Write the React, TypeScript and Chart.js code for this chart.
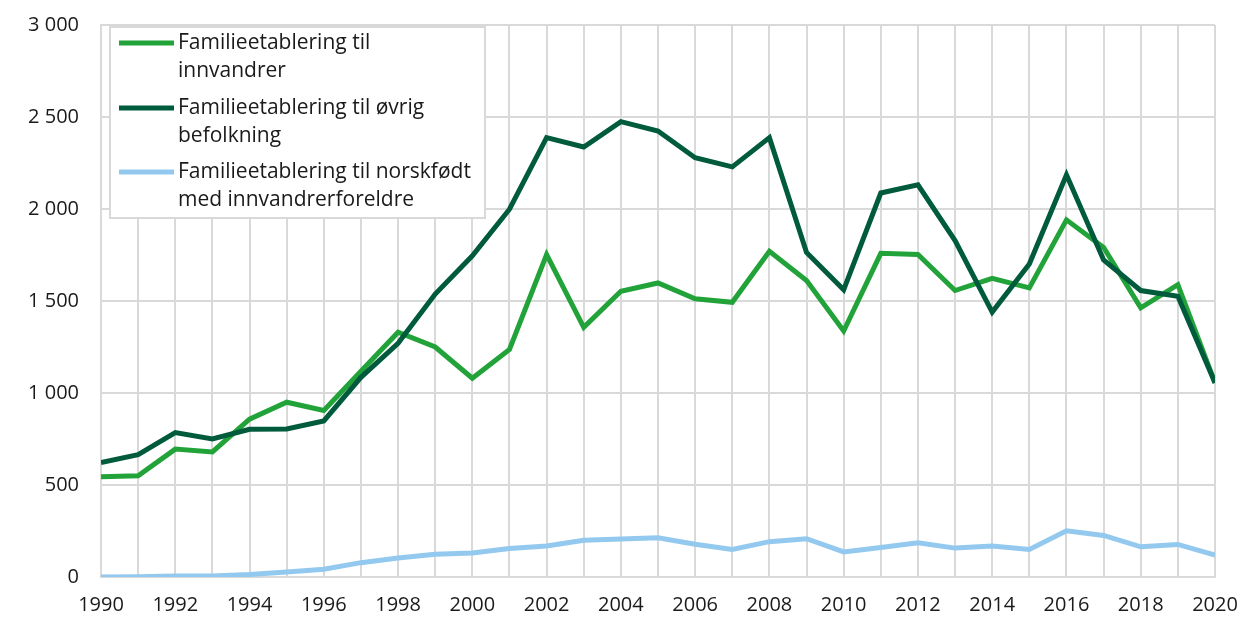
import React, { useEffect, useRef } from "react";
import { Chart, registerables } from "chart.js";

Chart.register(...registerables);

const years: number[] = [];
for (let y = 1990; y <= 2020; y++) years.push(y);

const innvandrer = [545, 550, 695, 680, 858, 950, 905, 1118, 1330, 1250, 1080, 1237, 1752, 1357, 1553, 1598, 1512, 1493, 1770, 1611, 1337, 1759, 1753, 1557, 1623, 1571, 1941, 1791, 1463, 1589, 1055];
const ovrig = [622, 665, 785, 750, 803, 804, 848, 1085, 1270, 1538, 1746, 1999, 2388, 2337, 2475, 2424, 2279, 2229, 2388, 1764, 1561, 2087, 2131, 1828, 1440, 1701, 2186, 1723, 1557, 1526, 1056];
const norskfodt = [0, 2, 6, 6, 14, 27, 42, 78, 103, 124, 130, 155, 168, 200, 207, 213, 178, 150, 192, 208, 136, 160, 186, 157, 168, 150, 251, 226, 164, 177, 119];

const seriesLabels = [
  ["Familieetablering til", "innvandrer"],
  ["Familieetablering til øvrig", "befolkning"],
  ["Familieetablering til norskfødt", "med innvandrerforeldre"],
];
const colors = ["#22a33a", "#005a3c", "#93c9ee"];

const FONT = "'Open Sans', sans-serif";

const legendPlugin = {
  id: "boxLegend",
  afterDraw(chart: any) {
    const ctx = chart.ctx;
    ctx.save();
    const bx = 110, by = 27, bw = 375, bh = 191;
    ctx.fillStyle = "#ffffff";
    ctx.fillRect(bx, by, bw, bh);
    ctx.strokeStyle = "#d9d9d9";
    ctx.lineWidth = 2;
    ctx.strokeRect(bx, by, bw, bh);
    const rows = [43, 108, 172];
    ctx.font = `21px ${FONT}`;
    ctx.textBaseline = "middle";
    ctx.textAlign = "left";
    rows.forEach((ry, i) => {
      ctx.strokeStyle = colors[i];
      ctx.lineWidth = 5;
      ctx.lineCap = "butt";
      ctx.beginPath();
      ctx.moveTo(119, ry);
      ctx.lineTo(174, ry);
      ctx.stroke();
      ctx.fillStyle = "#1a1a1a";
      ctx.fillText(seriesLabels[i][0], 178, ry);
      ctx.fillText(seriesLabels[i][1], 178, ry + 28);
    });
    ctx.restore();
  },
};

function fmt(v: number) {
  return String(v).replace(/\B(?=(\d{3})+(?!\d))/g, " ");
}

export default function App() {
  const ref = useRef<HTMLCanvasElement | null>(null);
  useEffect(() => {
    document.body.style.margin = "0";
    const canvas = ref.current!;
    const mk = (data: number[], i: number) => ({
      label: seriesLabels[i].join(" "),
      data: years.map((y, k) => ({ x: y, y: data[k] })),
      borderColor: colors[i],
      backgroundColor: colors[i],
      borderWidth: 5,
      pointRadius: 0,
      tension: 0,
      borderJoinStyle: "miter" as const,
    });
    const chart = new Chart(canvas, {
      type: "line",
      data: {
        datasets: [mk(norskfodt, 2), mk(ovrig, 1), mk(innvandrer, 0)],
      },
      plugins: [legendPlugin],
      options: {
        animation: false,
        responsive: false,
        layout: { padding: { left: 0, right: 27, top: 25, bottom: 0 } },
        plugins: { legend: { display: false }, tooltip: { enabled: false } },
        scales: {
          x: {
            type: "linear",
            min: 1990,
            max: 2020,
            afterFit: (s: any) => {
              s.height = 41;
              s.paddingLeft = 0;
              s.paddingRight = 0;
            },
            ticks: {
              stepSize: 1,
              autoSkip: false,
              maxRotation: 0,
              padding: 16,
              color: "#1a1a1a",
              font: { family: FONT, size: 20 },
              callback: (v: any) => (Number(v) % 2 === 0 ? String(v) : ""),
            },
            grid: { color: "#d9d9d9", lineWidth: 2, drawTicks: false },
            border: { color: "#d9d9d9", width: 2 },
          },
          y: {
            min: 0,
            max: 3000,
            afterFit: (s: any) => {
              s.width = 101;
              s.paddingTop = 0;
              s.paddingBottom = 0;
            },
            ticks: {
              stepSize: 500,
              padding: 22,
              color: "#1a1a1a",
              font: { family: FONT, size: 20 },
              callback: (v: any) => fmt(Number(v)),
            },
            grid: { color: "#d9d9d9", lineWidth: 2, drawTicks: false },
            border: { color: "#d9d9d9", width: 2 },
          },
        },
      },
    });
    return () => chart.destroy();
  }, []);
  return <canvas ref={ref} width={1242} height={618} style={{ display: "block" }} />;
}
